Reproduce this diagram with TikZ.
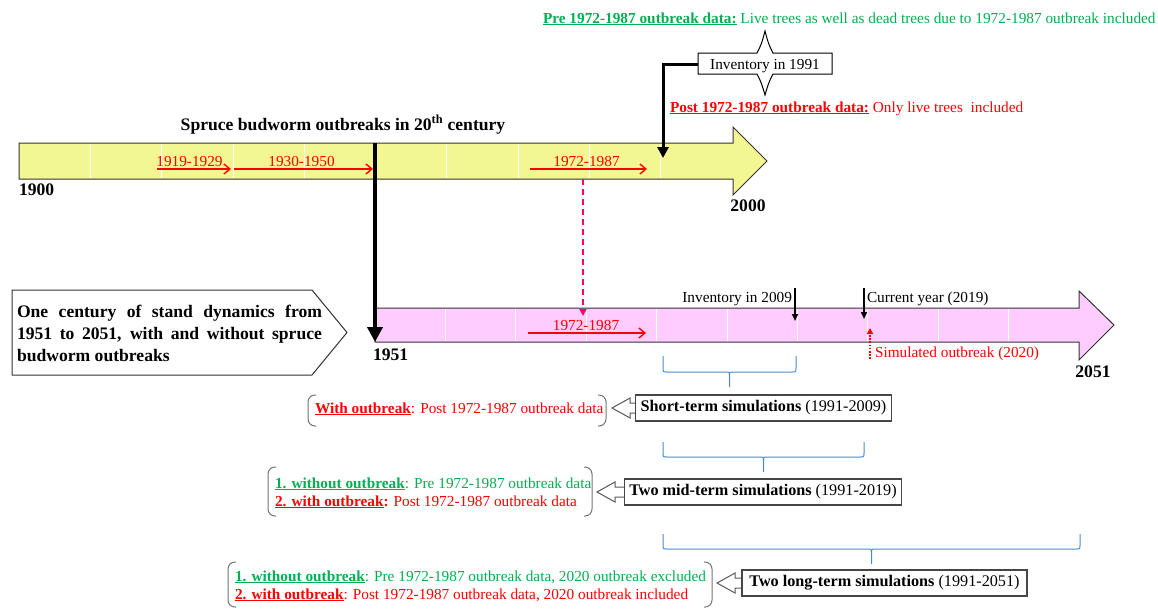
\documentclass[tikz,border=0pt]{standalone}
\usepackage{fontspec}
\setmainfont{Liberation Serif}
\usetikzlibrary{arrows.meta,calc}
\definecolor{barY}{RGB}{243,247,146}
\definecolor{barP}{RGB}{255,204,255}
\definecolor{grn}{RGB}{0,176,80}
\definecolor{dpink}{RGB}{255,0,110}
\definecolor{brc}{RGB}{70,140,205}
\definecolor{boxgray}{RGB}{70,70,70}
\newcommand\fs{\fontsize{15.3}{18}\selectfont}
\newcommand\fb{\fontsize{17.6}{21}\selectfont}
\newcommand\fm{\fontsize{16.2}{19}\selectfont}
\newcommand\mybrace[5]{% x1 x2 top h tip
  \draw[bracestyle] (#1,#3) -- (#1,#4-4) .. controls (#1,#4) .. (#1+4,#4) -- ({(#1+#2)/2-4},#4) .. controls ({(#1+#2)/2},#4) .. ({(#1+#2)/2},#4+4) -- ({(#1+#2)/2},#5);
  \draw[bracestyle] (#2,#3) -- (#2,#4-4) .. controls (#2,#4) .. (#2-4,#4) -- ({(#1+#2)/2+4},#4) .. controls ({(#1+#2)/2},#4) .. ({(#1+#2)/2},#4+4);
}
\newcommand\hollowarrow[3]{% tipx tipy boxx
  \draw[hollow] (#1,#2) -- (#1+18,#2-10) -- (#1+18,#2-5) -- (#3,#2-5) -- (#3,#2+5) -- (#1+18,#2+5) -- (#1+18,#2+10) -- cycle;
}
\begin{document}
\begin{tikzpicture}[x=1pt,y=-1pt,
  every node/.style={inner sep=0pt, outer sep=0pt, font=\fs},
  bartext/.style={font=\fb\bfseries},
  redlab/.style={text=red},
  redarrow/.style={red, line width=1.4pt, -{Straight Barb[length=6pt,width=10pt,line width=1.4pt]}},
  whiteline/.style={white, line width=0.8pt},
  bracestyle/.style={brc, line width=1pt},
  paren/.style={black!55, line width=1pt, rounded corners=7pt},
  hollow/.style={fill=white, draw=black!65, line width=1pt},
  simbox/.style={draw=boxgray, line width=1.2pt, fill=white, minimum height=26pt, inner xsep=5pt, font=\fm},
]
\useasboundingbox (0,0) rectangle (1158,608);

% ---------- top timeline ----------
\draw[fill=barY, draw=black!80, line width=1pt]
  (19,143) -- (733,143) -- (733,127) -- (767,161) -- (733,195) -- (733,179) -- (19,179) -- cycle;
\foreach \i in {1,...,9} \draw[whiteline] ({19+71.3*\i},143.8) -- ({19+71.3*\i},178.2);

\node[bartext, anchor=base] (title) at (343,130) {Spruce budworm outbreaks in 20\textsuperscript{th} century};
\node[bartext, anchor=base west] (y1900) at (19,195) {1900};
\node[bartext, anchor=base] (y2000) at (748,211) {2000};

\node[redlab, anchor=base] (l1919) at (189.5,166) {1919-1929};
\node[redlab, anchor=base] (l1930) at (301.5,166) {1930-1950};
\node[redlab, anchor=base] (l1972a) at (586.5,166) {1972-1987};
\coordinate (a1s) at (157,169); \coordinate (a1e) at (231,169);
\coordinate (a2s) at (234,169); \coordinate (a2e) at (373,169);
\coordinate (a3s) at (530,169); \coordinate (a3e) at (647,169);
\draw[redarrow] (a1s) -- (a1e);
\draw[redarrow] (a2s) -- (a2e);
\draw[redarrow] (a3s) -- (a3e);

% ---------- bottom timeline ----------
\draw[fill=barP, draw=black!80, line width=1pt]
  (375,308) -- (1079,308) -- (1079,291) -- (1114,325) -- (1079,360) -- (1079,342) -- (375,342) -- cycle;
\foreach \i in {1,...,9} \draw[whiteline] ({375+70.4*\i},308.8) -- ({375+70.4*\i},341.2);

\node[bartext, anchor=base west] (y1951) at (373,360) {1951};
\node[bartext, anchor=base] (y2051) at (1093,377) {2051};
\node[redlab, anchor=base] (l1972b) at (586,330) {1972-1987};
\coordinate (a4s) at (528,333); \coordinate (a4e) at (646,333);
\draw[redarrow] (a4s) -- (a4e);

% thick black link 1951
\coordinate (k1) at (375,143); \coordinate (k2) at (375,342);
\draw[line width=4pt, -{Triangle[length=15pt,width=15pt]}] (k1) -- (k2);

% dashed pink link
\coordinate (d1) at (583,179); \coordinate (d2) at (583,316);
\draw[dpink, line width=2.2pt, dash pattern=on 6pt off 4pt, -{Triangle[length=7pt,width=7pt]}] (d1) -- (d2);

% inventory 2009 / current year / simulated outbreak
\node[anchor=base east] (inv09) at (792,302) {Inventory in 2009};
\coordinate (i09a) at (795,288); \coordinate (i09b) at (795,321);
\draw[line width=1.6pt, -{Triangle[length=7pt,width=6pt]}] (i09a) -- (i09b);
\node[anchor=base west] (cur19) at (867,302) {Current year (2019)};
\coordinate (c19a) at (864,288); \coordinate (c19b) at (864,319);
\draw[line width=1.6pt, -{Triangle[length=7pt,width=6pt]}] (c19a) -- (c19b);
\node[redlab, anchor=base west] (sim20) at (875,357) {Simulated outbreak (2020)};
\coordinate (s20a) at (870,359); \coordinate (s20b) at (870,328);
\draw[red, line width=1.8pt, dash pattern=on 1.6pt off 1.6pt, -{Triangle[length=6pt,width=6pt]}] (s20a) -- (s20b);

% ---------- left pentagon ----------
\draw[draw=black!80, line width=1pt, fill=white] (12,290) -- (312,290) -- (347,332.5) -- (312,375) -- (12,375) -- cycle;
\node[bartext, anchor=base west, align=left] (cent) at (17,361)
  {\makebox[305pt][s]{One century of stand dynamics from}\\[1pt]
   \makebox[305pt][s]{1951 to 2051, with and without spruce}\\[1pt]
   budworm outbreaks};

% ---------- inventory 1991 star ----------
\draw[draw=black, line width=1pt, fill=white, miter limit=25]
  (698,53) -- (757,53) .. controls (761.5,44) .. (765,31) .. controls (768.5,44) .. (773,53) -- (832,53)
  -- (832,74) -- (773,74) .. controls (768.5,83) .. (765,95) .. controls (761.5,83) .. (757,74) -- (698,74) -- cycle;
\node[anchor=base] (inv91) at (765,69) {Inventory in 1991};
\coordinate (i91w) at (698,64); \coordinate (i91t) at (663,158);
\draw[line width=3pt, -{Triangle[length=11pt,width=11pt]}] (i91w) -| (i91t);

\node[text=grn, anchor=base west] (pre) at (543,23) {\textbf{\underline{Pre 1972-1987 outbreak data:}} Live trees as well as dead trees due to 1972-1987 outbreak included};
\node[redlab, anchor=base west] (post) at (670,112) {\textbf{\underline{Post 1972-1987 outbreak data:}} Only live trees\ \ included};

% ---------- braces ----------
\mybrace{663}{796}{356}{372}{387}
\mybrace{663}{864}{442}{457}{472}
\mybrace{663}{1080}{534}{549}{564}

% ---------- short-term ----------
\hollowarrow{612}{408}{640}
\node[simbox, minimum width=251pt] (short) at (763.5,408) {\textbf{Short-term simulations} (1991-2009)};
\draw[paren] (316,395) -- (308,395) -- (308,426) -- (316,426);
\draw[paren] (598,395) -- (606,395) -- (606,426) -- (598,426);
\node[redlab, anchor=base west] (g1) at (315,413) {\textbf{\underline{With outbreak}}: Post 1972-1987 outbreak data};

% ---------- mid-term ----------
\hollowarrow{597}{492}{628}
\node[simbox, minimum width=274pt] (mid) at (763,492) {\textbf{Two mid-term simulations} (1991-2019)};
\draw[paren] (276,467) -- (268,467) -- (268,516) -- (276,516);
\draw[paren] (584,467) -- (592,467) -- (592,516) -- (584,516);
\node[text=grn, anchor=base west] (g2a) at (275,488) {\textbf{\underline{1. without outbreak}}: Pre 1972-1987 outbreak data};
\node[redlab, anchor=base west] (g2b) at (275,506) {\textbf{\underline{2. with outbreak}:} Post 1972-1987 outbreak data};

% ---------- long-term ----------
\hollowarrow{717}{583}{744}
\node[simbox, minimum width=285pt] (long) at (884.5,583) {\textbf{Two long-term simulations} (1991-2051)};
\draw[paren] (236,562) -- (228,562) -- (228,607) -- (236,607);
\draw[paren] (704,562) -- (712,562) -- (712,607) -- (704,607);
\node[text=grn, anchor=base west] (g3a) at (235,581) {\textbf{\underline{1. without outbreak}}: Pre 1972-1987 outbreak data, 2020 outbreak excluded};
\node[redlab, anchor=base west] (g3b) at (235,599) {\textbf{\underline{2. with outbreak}}: Post 1972-1987 outbreak data, 2020 outbreak included};
\end{tikzpicture}
\end{document}
